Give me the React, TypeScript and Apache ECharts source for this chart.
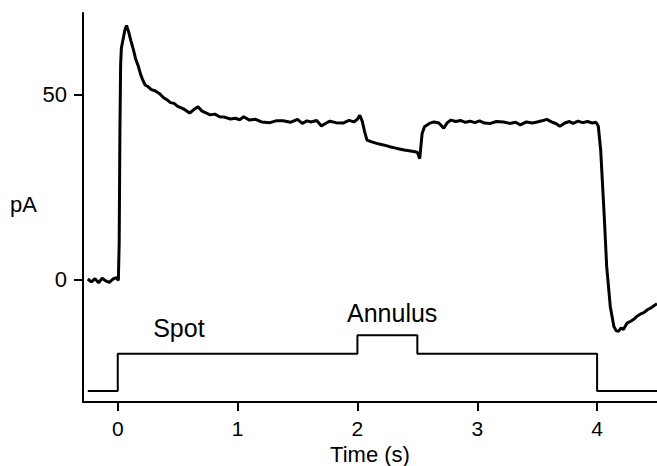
import React, { useEffect, useRef } from "react";
import * as echarts from "echarts";

// Current trace (time in s, current in pA)
const traceTime = [
  -0.25, -0.22, -0.19, -0.16, -0.13, -0.1, -0.07, -0.04, -0.01, 0.005,
  0.012, 0.018, 0.024, 0.03, 0.045, 0.06, 0.073, 0.09, 0.11, 0.13,
  0.15, 0.17, 0.19, 0.21, 0.23, 0.25, 0.28, 0.31, 0.35, 0.38,
  0.41, 0.44, 0.47, 0.5, 0.53, 0.56, 0.6, 0.63, 0.67, 0.7,
  0.74, 0.77, 0.81, 0.85, 0.89, 0.94, 0.98, 1.02, 1.05, 1.1,
  1.15, 1.2, 1.27, 1.32, 1.38, 1.44, 1.5, 1.54, 1.58, 1.61,
  1.66, 1.7, 1.74, 1.77, 1.82, 1.88, 1.93, 1.97, 2.0, 2.02,
  2.04, 2.06, 2.08, 2.12, 2.16, 2.2, 2.24, 2.27, 2.31, 2.35,
  2.39, 2.43, 2.47, 2.5, 2.52, 2.54, 2.56, 2.6, 2.64, 2.68,
  2.72, 2.75, 2.78, 2.82, 2.86, 2.9, 2.94, 2.98, 3.02, 3.06,
  3.11, 3.16, 3.22, 3.27, 3.32, 3.36, 3.41, 3.46, 3.5, 3.54,
  3.58, 3.62, 3.66, 3.69, 3.73, 3.77, 3.8, 3.84, 3.88, 3.92,
  3.96, 3.99, 4.01, 4.03, 4.06, 4.08, 4.11, 4.14, 4.16, 4.18,
  4.2, 4.22, 4.25, 4.28, 4.31, 4.33, 4.36, 4.39, 4.42, 4.45,
  4.48, 4.5,
];
const tracePA = [
  0.2, -0.6, 0.3, -0.8, 0.4, -0.3, -0.7, 0.2, 0.6, -0.2,
  10, 40, 58, 62.5, 65, 67.5, 68.6, 67, 64.5, 62.2,
  59.5, 57.8, 55.5, 53.8, 52.5, 52.2, 51.3, 51.0, 50.2, 49.2,
  48.6, 47.8, 47.6, 46.8, 46.4, 45.9, 45.0, 45.8, 46.7, 45.6,
  45.0, 44.5, 44.7, 44.0, 43.9, 43.4, 43.6, 43.2, 44.0, 43.1,
  43.3, 42.6, 42.4, 42.9, 42.9, 42.5, 43.3, 42.2, 42.9, 42.6,
  43.0, 41.5, 42.3, 42.8, 42.4, 42.3, 43.0, 42.6, 43.3, 44.4,
  42.8, 40.0, 37.7, 37.2, 36.8, 36.5, 36.2, 35.9, 35.6, 35.3,
  35.0, 34.8, 34.6, 34.4, 32.7, 39.5, 41.3, 42.2, 42.6, 42.3,
  40.9, 42.4, 43.1, 42.7, 43.0, 42.5, 42.8, 42.4, 42.9, 42.3,
  42.2, 42.7, 42.6, 42.2, 42.5, 41.8, 42.6, 42.3, 42.6, 42.9,
  43.3, 42.6, 42.1, 41.4, 42.3, 42.7, 42.2, 42.8, 42.4, 42.7,
  42.3, 42.5, 41.5, 35, 17, 3.6, -7.2, -12.6, -13.8, -13.9,
  -13.0, -13.4, -11.7, -11.2, -10.6, -9.9, -9.3, -8.9, -8.1, -7.6,
  -6.9, -6.5,
];

// Stimulus trace (drawn in pA units below the current)
const stimTime = [-0.25, 0, 0, 2, 2, 2.5, 2.5, 4, 4, 4.5];
const stimLevel = [-30, -30, -20, -20, -15, -15, -20, -20, -30, -30];

// Stimulus annotations
const labelNames = ["Spot", "Annulus"];
const labelTime = [0.51, 2.29];
const labelLevel = [-12.9, -8.9];

const xTicks = [0, 1, 2, 3, 4];
const yTicks = [0, 50];

const FONT = "'Liberation Sans', Arial, Helvetica, sans-serif";

export default function App() {
  const ref = useRef<HTMLDivElement>(null);
  useEffect(() => {
    if (!ref.current) return;
    const chart = echarts.init(ref.current, undefined, { renderer: "svg" });
    const axisLine = { show: true, onZero: false, lineStyle: { color: "#000", width: 2 } };
    const tickBase = { show: true, length: 9, lineStyle: { color: "#000", width: 2 } };
    chart.setOption({
      animation: false,
      backgroundColor: "#fff",
      textStyle: { fontFamily: FONT },
      grid: {
        left: 83,
        right: 0,
        top: 13,
        bottom: 64,
        containLabel: false,
        outerBoundsMode: "none",
      },
      xAxis: {
        type: "value",
        min: -0.29,
        max: 4.5,
        axisLine,
        splitLine: { show: false },
        axisTick: { ...tickBase, customValues: xTicks },
        axisLabel: {
          customValues: xTicks,
          color: "#000",
          fontSize: 21,
          fontFamily: FONT,
          margin: 16,
        },
        name: "Time (s)",
        nameLocation: "middle",
        nameGap: 38,
        nameTextStyle: { color: "#000", fontSize: 22, fontFamily: FONT },
      },
      yAxis: {
        type: "value",
        min: -33,
        max: 72,
        axisLine,
        splitLine: { show: false },
        axisTick: { ...tickBase, customValues: yTicks },
        axisLabel: {
          customValues: yTicks,
          color: "#000",
          fontSize: 22,
          fontFamily: FONT,
          margin: 16,
        },
      },
      graphic: [
        {
          type: "text",
          left: 10,
          top: 193,
          style: { text: "pA", fontSize: 22, fontFamily: FONT, fill: "#000" },
        },
      ],
      series: [
        {
          type: "line",
          data: traceTime.map((t, i) => [t, tracePA[i]]),
          showSymbol: false,
          symbol: "none",
          lineStyle: { color: "#000", width: 3 },
        },
        {
          type: "line",
          data: stimTime.map((t, i) => [t, stimLevel[i]]),
          showSymbol: false,
          symbol: "none",
          lineStyle: { color: "#000", width: 2 },
        },
        {
          type: "scatter",
          data: labelNames.map((n, i) => [labelTime[i], labelLevel[i], n]),
          symbolSize: 0,
          itemStyle: { color: "#000", opacity: 1 },
          label: {
            show: true,
            position: "inside",
            formatter: (p: any) => p.value[2],
            color: "#000",
            opacity: 1,
            textBorderWidth: 0,
            fontSize: 25,
            fontFamily: FONT,
          },
        },
      ],
    });
    return () => chart.dispose();
  }, []);
  return (
    <div
      ref={ref}
      style={{ width: 657, height: 466, position: "absolute", left: 0, top: 0 }}
    />
  );
}
